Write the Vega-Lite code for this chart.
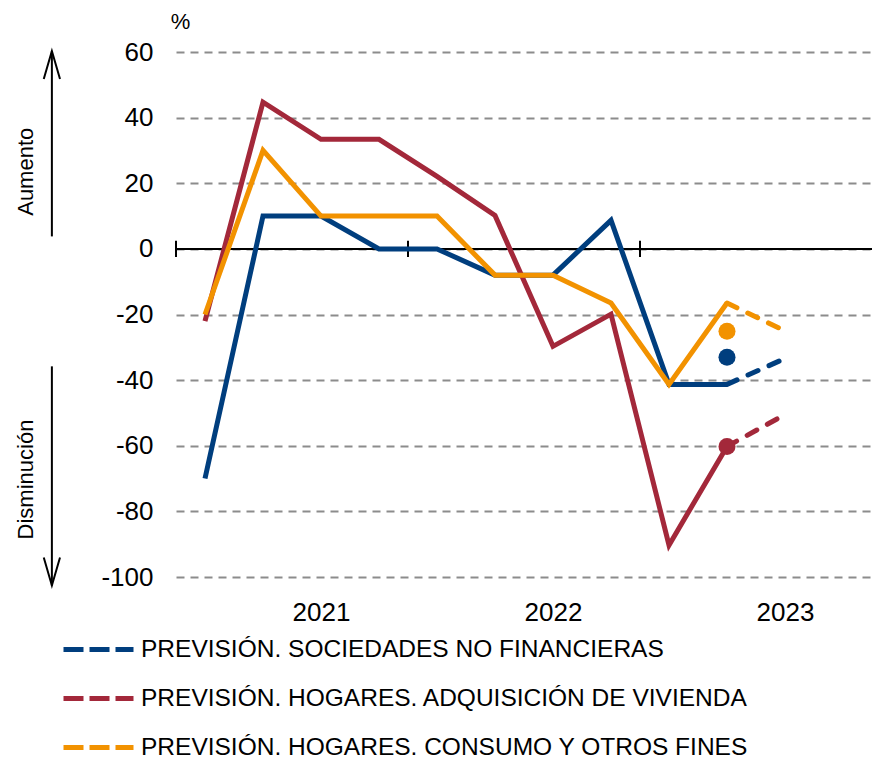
{
  "$schema": "https://vega.github.io/schema/vega-lite/v6.json",
  "width": 696,
  "height": 525,
  "autosize": {"type": "none"},
  "padding": {"left": 176, "top": 52, "right": 1, "bottom": 181},
  "config": {"view": {"stroke": null}, "font": "Liberation Sans"},
  "datasets": {
    "real": [
      {"serie": "PREVISIÓN. SOCIEDADES NO FINANCIERAS", "t": 0, "v": -70},
      {"serie": "PREVISIÓN. SOCIEDADES NO FINANCIERAS", "t": 1, "v": 10},
      {"serie": "PREVISIÓN. SOCIEDADES NO FINANCIERAS", "t": 2, "v": 10},
      {"serie": "PREVISIÓN. SOCIEDADES NO FINANCIERAS", "t": 3, "v": 0},
      {"serie": "PREVISIÓN. SOCIEDADES NO FINANCIERAS", "t": 4, "v": 0},
      {"serie": "PREVISIÓN. SOCIEDADES NO FINANCIERAS", "t": 5, "v": -8},
      {"serie": "PREVISIÓN. SOCIEDADES NO FINANCIERAS", "t": 6, "v": -8},
      {"serie": "PREVISIÓN. SOCIEDADES NO FINANCIERAS", "t": 7, "v": 8.7},
      {"serie": "PREVISIÓN. SOCIEDADES NO FINANCIERAS", "t": 8, "v": -41.3},
      {"serie": "PREVISIÓN. SOCIEDADES NO FINANCIERAS", "t": 9, "v": -41.3},
      {"serie": "PREVISIÓN. HOGARES. ADQUISICIÓN DE VIVIENDA", "t": 0, "v": -22},
      {"serie": "PREVISIÓN. HOGARES. ADQUISICIÓN DE VIVIENDA", "t": 1, "v": 44.7},
      {"serie": "PREVISIÓN. HOGARES. ADQUISICIÓN DE VIVIENDA", "t": 2, "v": 33.4},
      {"serie": "PREVISIÓN. HOGARES. ADQUISICIÓN DE VIVIENDA", "t": 3, "v": 33.4},
      {"serie": "PREVISIÓN. HOGARES. ADQUISICIÓN DE VIVIENDA", "t": 4, "v": 22.1},
      {"serie": "PREVISIÓN. HOGARES. ADQUISICIÓN DE VIVIENDA", "t": 5, "v": 10.2},
      {"serie": "PREVISIÓN. HOGARES. ADQUISICIÓN DE VIVIENDA", "t": 6, "v": -29.7},
      {"serie": "PREVISIÓN. HOGARES. ADQUISICIÓN DE VIVIENDA", "t": 7, "v": -19.9},
      {"serie": "PREVISIÓN. HOGARES. ADQUISICIÓN DE VIVIENDA", "t": 8, "v": -90.3},
      {"serie": "PREVISIÓN. HOGARES. ADQUISICIÓN DE VIVIENDA", "t": 9, "v": -60.2},
      {"serie": "PREVISIÓN. HOGARES. CONSUMO Y OTROS FINES", "t": 0, "v": -20},
      {"serie": "PREVISIÓN. HOGARES. CONSUMO Y OTROS FINES", "t": 1, "v": 30},
      {"serie": "PREVISIÓN. HOGARES. CONSUMO Y OTROS FINES", "t": 2, "v": 10},
      {"serie": "PREVISIÓN. HOGARES. CONSUMO Y OTROS FINES", "t": 3, "v": 10},
      {"serie": "PREVISIÓN. HOGARES. CONSUMO Y OTROS FINES", "t": 4, "v": 10},
      {"serie": "PREVISIÓN. HOGARES. CONSUMO Y OTROS FINES", "t": 5, "v": -8},
      {"serie": "PREVISIÓN. HOGARES. CONSUMO Y OTROS FINES", "t": 6, "v": -8},
      {"serie": "PREVISIÓN. HOGARES. CONSUMO Y OTROS FINES", "t": 7, "v": -16.5},
      {"serie": "PREVISIÓN. HOGARES. CONSUMO Y OTROS FINES", "t": 8, "v": -41.3},
      {"serie": "PREVISIÓN. HOGARES. CONSUMO Y OTROS FINES", "t": 9, "v": -16.5}
    ],
    "prev": [
      {"serie": "PREVISIÓN. SOCIEDADES NO FINANCIERAS", "t": 9, "v": -41.3},
      {"serie": "PREVISIÓN. SOCIEDADES NO FINANCIERAS", "t": 10, "v": -33.4},
      {"serie": "PREVISIÓN. HOGARES. ADQUISICIÓN DE VIVIENDA", "t": 9, "v": -60.2},
      {"serie": "PREVISIÓN. HOGARES. ADQUISICIÓN DE VIVIENDA", "t": 10, "v": -50.5},
      {"serie": "PREVISIÓN. HOGARES. CONSUMO Y OTROS FINES", "t": 9, "v": -16.5},
      {"serie": "PREVISIÓN. HOGARES. CONSUMO Y OTROS FINES", "t": 10, "v": -25}
    ],
    "dots": [
      {"serie": "PREVISIÓN. SOCIEDADES NO FINANCIERAS", "t": 9, "v": -33},
      {"serie": "PREVISIÓN. HOGARES. ADQUISICIÓN DE VIVIENDA", "t": 9, "v": -60.2},
      {"serie": "PREVISIÓN. HOGARES. CONSUMO Y OTROS FINES", "t": 9, "v": -25.1}
    ]
  },
  "layer": [
    {
      "data": {"values": [{"y": 0}]},
      "mark": {"type": "rule", "color": "black", "strokeWidth": 2},
      "encoding": {
        "y": {
          "field": "y", "type": "quantitative",
          "scale": {"domain": [-100, 60], "nice": false, "zero": false},
          "axis": {
            "values": [-100, -80, -60, -40, -20, 0, 20, 40, 60],
            "labelExpr": "toString(datum.value)",
            "grid": true, "gridDash": [8, 6], "gridColor": "#8c8c8c", "gridWidth": 2,
            "domain": false, "ticks": false,
            "labelFontSize": 26, "labelPadding": 23, "labelColor": "black",
            "title": "%", "titleAngle": 0, "titleX": 4, "titleY": -24,
            "titleFontSize": 22, "titleFontWeight": "normal", "titleAlign": "center",
            "titleBaseline": "alphabetic", "titleColor": "black"
          }
        }
      }
    },
    {
      "data": {"values": [{"x": -0.5}, {"x": 3.5}, {"x": 7.5}]},
      "mark": {"type": "rule", "color": "black", "strokeWidth": 2},
      "encoding": {
        "x": {"field": "x", "type": "quantitative"},
        "y": {"datum": -2.5, "type": "quantitative"},
        "y2": {"datum": 2.5}
      }
    },
    {
      "data": {"name": "real"},
      "mark": {"type": "line", "strokeWidth": 5},
      "encoding": {
        "x": {
          "field": "t", "type": "quantitative",
          "scale": {"domain": [-0.5, 11.5], "nice": false, "zero": false},
          "axis": {
            "values": [2, 6, 10],
            "labelExpr": "datum.value == 2 ? '2021' : datum.value == 6 ? '2022' : '2023'",
            "domain": false, "ticks": false, "grid": false,
            "labelFontSize": 26, "labelPadding": 22, "labelColor": "black", "title": null
          }
        },
        "y": {"field": "v", "type": "quantitative"},
        "color": {
          "field": "serie", "type": "nominal",
          "scale": {
            "domain": ["PREVISIÓN. SOCIEDADES NO FINANCIERAS", "PREVISIÓN. HOGARES. ADQUISICIÓN DE VIVIENDA", "PREVISIÓN. HOGARES. CONSUMO Y OTROS FINES"],
            "range": ["#003e7e", "#a3283a", "#f29200"]
          },
          "legend": {
            "orient": "none", "legendX": -115, "legendY": 560, "title": null,
            "symbolType": "stroke", "symbolSize": 4900, "symbolStrokeWidth": 5,
            "symbolDash": [20, 6],
            "labelFontSize": 24.5, "labelFont": "Liberation Sans", "labelColor": "black",
            "labelOffset": 5, "labelLimit": 1000, "rowPadding": -18
          }
        }
      }
    },
    {
      "data": {"name": "prev"},
      "mark": {"type": "line", "strokeWidth": 5, "strokeDash": [11, 12], "strokeCap": "round"},
      "encoding": {
        "x": {"field": "t", "type": "quantitative"},
        "y": {"field": "v", "type": "quantitative"},
        "color": {"field": "serie", "type": "nominal"}
      }
    },
    {
      "data": {"name": "dots"},
      "mark": {"type": "circle", "size": 290, "opacity": 1},
      "encoding": {
        "x": {"field": "t", "type": "quantitative"},
        "y": {"field": "v", "type": "quantitative"},
        "color": {"field": "serie", "type": "nominal"}
      }
    },
    {
      "data": {"values": [{"x": -2.64, "y1": 3.8, "y2": 60.3}, {"x": -2.64, "y1": -35.8, "y2": -102.6}]},
      "mark": {"type": "rule", "color": "black", "strokeWidth": 2},
      "encoding": {
        "x": {"field": "x", "type": "quantitative"},
        "y": {"field": "y1", "type": "quantitative"},
        "y2": {"field": "y2"}
      }
    },
    {
      "data": {"values": [{"x": -2.64, "y": 60.3}]},
      "mark": {"type": "point", "shape": "M-0.29,1L0,0L0.29,1", "size": 3136, "filled": false, "stroke": "black", "strokeWidth": 2, "opacity": 1},
      "encoding": {
        "x": {"field": "x", "type": "quantitative"},
        "y": {"field": "y", "type": "quantitative"}
      }
    },
    {
      "data": {"values": [{"x": -2.64, "y": -102.6}]},
      "mark": {"type": "point", "shape": "M-0.29,-1L0,0L0.29,-1", "size": 3136, "filled": false, "stroke": "black", "strokeWidth": 2, "opacity": 1},
      "encoding": {
        "x": {"field": "x", "type": "quantitative"},
        "y": {"field": "y", "type": "quantitative"}
      }
    },
    {
      "data": {"values": [{"label": "Aumento", "x": -3.09, "y": 23.5}, {"label": "Disminución", "x": -3.09, "y": -70.3}]},
      "mark": {"type": "text", "angle": 270, "fontSize": 22, "align": "center", "baseline": "middle", "color": "black"},
      "encoding": {
        "x": {"field": "x", "type": "quantitative"},
        "y": {"field": "y", "type": "quantitative"},
        "text": {"field": "label"}
      }
    }
  ]
}
